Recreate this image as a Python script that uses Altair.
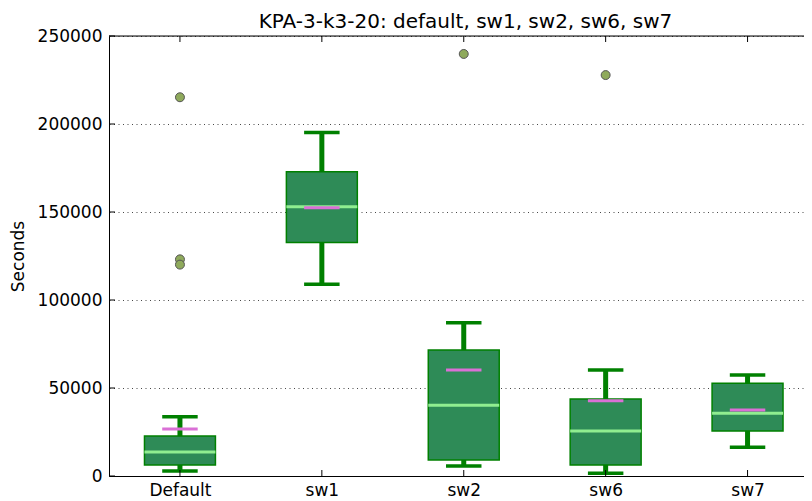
import altair as alt
import pandas as pd

categories = ["Default", "sw1", "sw2", "sw6", "sw7"]
whisker_low = [2800, 108900, 5700, 1500, 16300]
q1 = [6250, 132600, 9100, 6250, 25600]
median = [13600, 153000, 40200, 25600, 35600]
q3 = [22700, 172900, 71600, 43800, 52700]
whisker_high = [33700, 195100, 87100, 60200, 57400]
mean = [26700, 152400, 60200, 42800, 37500]
outlier_cat = ["Default", "Default", "Default", "sw2", "sw6"]
outlier_val = [215200, 123100, 120100, 239800, 227800]
y_ticks = [0, 50000, 100000, 150000, 200000, 250000]

pos = list(range(1, len(categories) + 1))
box = pd.DataFrame({
    "cat": categories, "pos": pos,
    "lo": whisker_low, "q1": q1, "med": median, "q3": q3, "hi": whisker_high, "mean": mean,
})
box["bx1"] = box["pos"] - 0.25
box["bx2"] = box["pos"] + 0.25
box["cx1"] = box["pos"] - 0.125
box["cx2"] = box["pos"] + 0.125
out = pd.DataFrame({"cat": outlier_cat, "val": outlier_val})
out["pos"] = out["cat"].map({c: i + 1 for i, c in enumerate(categories)})
yt = pd.DataFrame({"v": y_ticks})
xt = pd.DataFrame({"pos": pos})

W = 695
H = 440
XMAX = 0.5 + W / 141.9

label_expr = "[" + ",".join("'%s'" % c for c in categories) + "][datum.value-1]"

xscale = alt.Scale(domain=[0.5, XMAX], nice=False, zero=False)
yscale = alt.Scale(domain=[0, 250000], nice=False, zero=True)

FONT = "DejaVu Sans"

xaxis = alt.Axis(values=pos, labelExpr=label_expr, title=None, grid=False,
                 tickSize=0, labelPadding=6, labelFontSize=17, labelFont=FONT,
                 labelColor="black", domainColor="black", domainWidth=1)
yaxis = alt.Axis(values=y_ticks, title="Seconds", grid=True, gridColor="black",
                 gridDash=[1, 3.5], gridWidth=0.8, gridOpacity=0.9,
                 tickSize=0, labelPadding=7, labelFontSize=17, labelFont=FONT,
                 labelColor="black", titleFontSize=17, titleFont=FONT,
                 titleFontWeight="normal", titleColor="black", titlePadding=10,
                 domainColor="black", domainWidth=1, format="d")

base = alt.Chart(box)

boxes = base.mark_rect(fill="#2E8B57", stroke="#008000", strokeWidth=1.5).encode(
    x=alt.X("bx1:Q", scale=xscale, axis=xaxis),
    x2="bx2:Q",
    y=alt.Y("q1:Q", scale=yscale, axis=yaxis),
    y2="q3:Q",
)
wlow = base.mark_rule(color="#008000", strokeWidth=5).encode(
    x=alt.X("pos:Q", scale=xscale), y=alt.Y("lo:Q", scale=yscale), y2="q1:Q")
whigh = base.mark_rule(color="#008000", strokeWidth=5).encode(
    x=alt.X("pos:Q", scale=xscale), y=alt.Y("q3:Q", scale=yscale), y2="hi:Q")
clow = base.mark_rule(color="#008000", strokeWidth=3.5).encode(
    x=alt.X("cx1:Q", scale=xscale), x2="cx2:Q", y=alt.Y("lo:Q", scale=yscale))
chigh = base.mark_rule(color="#008000", strokeWidth=3.5).encode(
    x=alt.X("cx1:Q", scale=xscale), x2="cx2:Q", y=alt.Y("hi:Q", scale=yscale))
med = base.mark_rule(color="#90EE90", strokeWidth=3).encode(
    x=alt.X("bx1:Q", scale=xscale), x2="bx2:Q", y=alt.Y("med:Q", scale=yscale))
mn = base.mark_rule(color="#DA70D6", strokeWidth=3).encode(
    x=alt.X("cx1:Q", scale=xscale), x2="cx2:Q", y=alt.Y("mean:Q", scale=yscale))
fl = alt.Chart(out).mark_point(filled=True, fill="#8FAA5C", stroke="#555555",
                               strokeWidth=1, opacity=1, size=80, shape="circle").encode(
    x=alt.X("pos:Q", scale=xscale), y=alt.Y("val:Q", scale=yscale))

# top spine
top = alt.Chart(yt).transform_filter("datum.v == 250000").mark_rule(
    color="black", strokeWidth=1).encode(
    x=alt.value(0), x2=alt.value(W), y=alt.Y("v:Q", scale=yscale))
# inward ticks on left
lt = alt.Chart(yt).mark_rule(color="black", strokeWidth=1).encode(
    x=alt.value(0), x2=alt.value(6), y=alt.Y("v:Q", scale=yscale))
# inward ticks on bottom and top
bt = alt.Chart(xt).mark_rule(color="black", strokeWidth=1).encode(
    x=alt.X("pos:Q", scale=xscale), y=alt.value(H), y2=alt.value(H - 6))
tt = alt.Chart(xt).mark_rule(color="black", strokeWidth=1).encode(
    x=alt.X("pos:Q", scale=xscale), y=alt.value(0), y2=alt.value(6))

chart = alt.layer(boxes, wlow, whigh, clow, chigh, med, mn, fl, top, lt, bt, tt).properties(
    width=W, height=H,
    title=alt.TitleParams("KPA-3-k3-20: default, sw1, sw2, sw6, sw7", fontSize=20,
                          font=FONT, fontWeight="normal", color="black",
                          anchor="middle", frame="group", offset=-5, dx=9),
    autosize=alt.AutoSizeParams(type="none"),
    padding={"left": 101, "top": 28, "right": 0, "bottom": 24},
).configure_view(stroke=None).configure(background="white")

chart.save("out.html", embed_options={"renderer": "svg", "actions": False})
